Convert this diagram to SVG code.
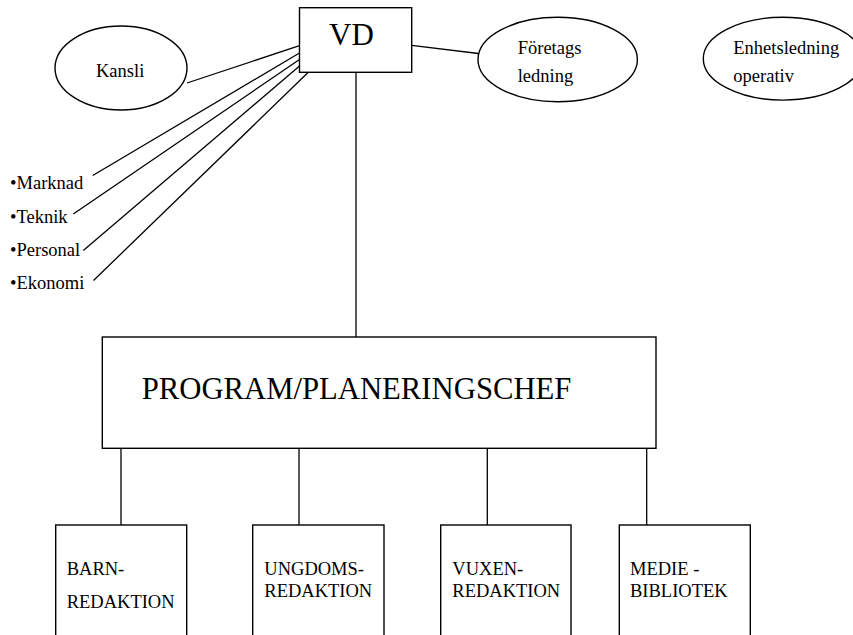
<svg xmlns="http://www.w3.org/2000/svg" width="853" height="635" viewBox="0 0 853 635">
  <style>
    .box { fill: #ffffff; stroke: #000000; stroke-width: 1.4; }
    .link { fill: none; stroke: #000000; stroke-width: 1.3; }
    text { font-family: "Liberation Serif", "Times New Roman", serif; fill: #000000; }
    .s { font-size: 18.5px; }
  </style>
  <rect width="853" height="635" fill="#ffffff"/>

  <!-- connectors -->
  <g id="connectors">
    <line class="link" x1="187" y1="83" x2="299.5" y2="45.7"/>
    <line class="link" x1="299.5" y1="53" x2="92.7" y2="175.5"/>
    <line class="link" x1="299.5" y1="59.5" x2="73.3" y2="214"/>
    <line class="link" x1="299.5" y1="66" x2="83.3" y2="250.5"/>
    <line class="link" x1="308.3" y1="72.3" x2="93.5" y2="280.5"/>
    <line class="link" x1="411.7" y1="45.3" x2="478.3" y2="53.5"/>
    <line class="link" x1="356" y1="72.3" x2="356" y2="337"/>
    <line class="link" x1="121" y1="448.3" x2="121" y2="525"/>
    <line class="link" x1="299" y1="448.3" x2="299" y2="525"/>
    <line class="link" x1="487.3" y1="448.3" x2="487.3" y2="525"/>
    <line class="link" x1="646.7" y1="448.3" x2="646.7" y2="525"/>
  </g>

  <!-- top management -->
  <g id="vd">
    <rect class="box" x="299.5" y="7.7" width="112.2" height="64.6"/>
    <text x="329" y="45" font-size="31">VD</text>
  </g>

  <g id="kansli">
    <ellipse class="box" cx="121" cy="68" rx="66" ry="42"/>
    <text class="s" x="96" y="77">Kansli</text>
  </g>

  <g id="foretagsledning">
    <ellipse class="box" cx="557.7" cy="59.5" rx="79.7" ry="42.2"/>
    <text class="s" x="517.7" y="53.5">Företags</text>
    <text class="s" x="517.7" y="82">ledning</text>
  </g>

  <g id="enhetsledning">
    <ellipse class="box" cx="783" cy="58.7" rx="79.7" ry="41.4"/>
    <text class="s" x="733.3" y="53.5">Enhetsledning</text>
    <text class="s" x="733.3" y="82">operativ</text>
  </g>

  <!-- staff functions -->
  <g id="staff">
    <text class="s" x="10" y="189">•Marknad</text>
    <text class="s" x="10" y="222.5">•Teknik</text>
    <text class="s" x="10" y="256">•Personal</text>
    <text class="s" x="10" y="289">•Ekonomi</text>
  </g>

  <g id="programchef">
    <rect class="box" x="102.3" y="337" width="553.7" height="111.3"/>
    <text x="141.7" y="399.3" font-size="30.7">PROGRAM/PLANERINGSCHEF</text>
  </g>

  <!-- editorial units -->
  <g id="barn">
    <rect class="box" x="55.7" y="525" width="131" height="120"/>
    <text class="s" x="66.7" y="575">BARN-</text>
    <text class="s" x="66.7" y="608.3">REDAKTION</text>
  </g>

  <g id="ungdom">
    <rect class="box" x="252.7" y="525" width="131.3" height="120"/>
    <text class="s" x="264.3" y="575">UNGDOMS-</text>
    <text class="s" x="264.3" y="597">REDAKTION</text>
  </g>

  <g id="vuxen">
    <rect class="box" x="440.7" y="525" width="130.3" height="120"/>
    <text class="s" x="452.3" y="575">VUXEN-</text>
    <text class="s" x="452.3" y="597">REDAKTION</text>
  </g>

  <g id="medie">
    <rect class="box" x="619.3" y="525" width="131" height="120"/>
    <text class="s" x="630" y="575">MEDIE -</text>
    <text class="s" x="630" y="597">BIBLIOTEK</text>
  </g>
</svg>
